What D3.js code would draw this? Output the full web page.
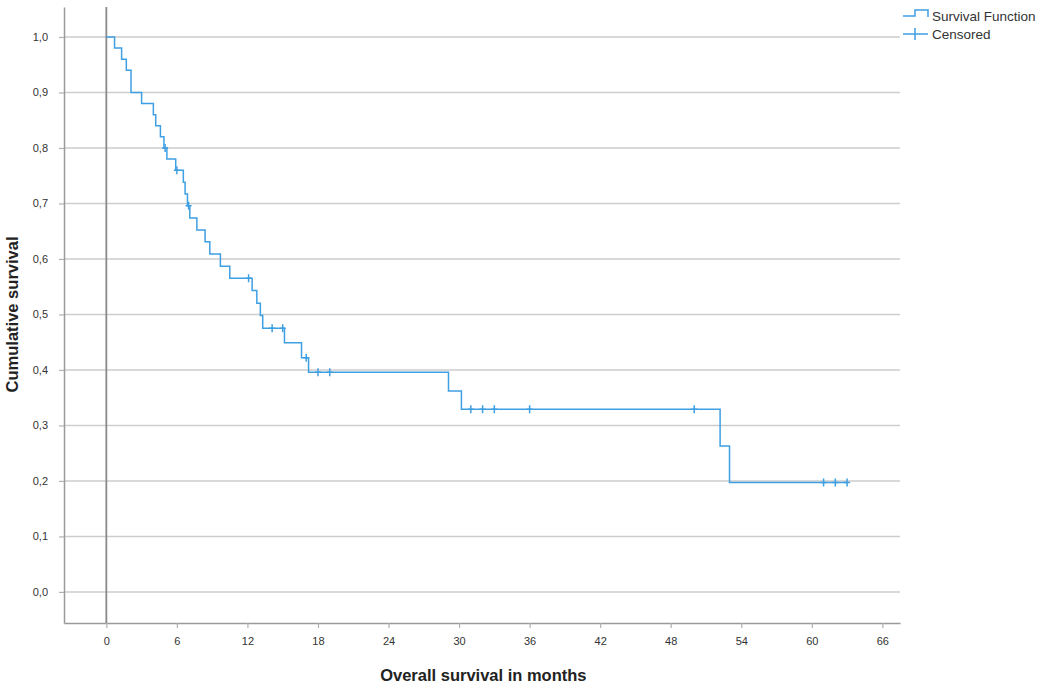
<!DOCTYPE html>
<html>
<head>
<meta charset="utf-8">
<script src="https://cdn.jsdelivr.net/npm/d3@7"></script>
<style>
  body { margin: 0; background: #fff; }
  text { font-family: "Liberation Sans", Arial, sans-serif; }
</style>
</head>
<body>
<script>
// Kaplan-Meier steps (months, cumulative survival after the step)
const eventTimes = [0, 0.7, 1.3, 1.7, 2.1, 3.0, 4.0, 4.2, 4.6, 4.9, 5.15, 5.9, 6.55, 6.7, 6.9, 7.1, 7.7, 8.4, 8.8, 9.7, 10.5, 12.4, 12.8, 13.1, 13.3, 15.15, 16.6, 17.2, 29.1, 30.2, 52.2, 53.0]
const survival   = [1.0, 0.98, 0.96, 0.94, 0.90, 0.88, 0.86, 0.84, 0.82, 0.80, 0.78, 0.76, 0.738, 0.717, 0.696, 0.674, 0.652, 0.631, 0.609, 0.587, 0.565, 0.543, 0.52, 0.498, 0.475, 0.449, 0.422, 0.396, 0.362, 0.329, 0.263, 0.197]
const censorTimes = [5.0, 6.0, 7.0, 12.1, 14.1, 15.0, 17.0, 18.0, 19.0, 31.0, 32.0, 33.0, 36.0, 50.0, 61.0, 62.0, 63.0]
const xTicks = [0, 6, 12, 18, 24, 30, 36, 42, 48, 54, 60, 66]
const yTicks = [0, 0.1, 0.2, 0.3, 0.4, 0.5, 0.6, 0.7, 0.8, 0.9, 1.0]
const blue = '#3f9fe3'

const W = 1037, H = 689
const svg = d3.select('body').append('svg').attr('width', W).attr('height', H)

// frame runs a bit past 0 and 66 like SPSS does
const x = d3.scaleLinear().domain([-3.6, 67.5]).range([64, 900])
const y = d3.scaleLinear().domain([-0.056, 1.054]).range([623, 7])

// survival level at time t (step after)
const levelAt = t => {
  let s = 1
  eventTimes.forEach((e, i) => { if (e <= t) s = survival[i] })
  return s
}

// gridlines
svg.append('g').selectAll('line').data(yTicks).join('line')
  .attr('x1', x.range()[0]).attr('x2', x.range()[1])
  .attr('y1', d => y(d)).attr('y2', d => y(d))
  .attr('stroke', '#cdcdcd').attr('stroke-width', 1.5)

// axes
const yAxis = svg.append('g').attr('transform', `translate(${x.range()[0]},0)`)
  .call(d3.axisLeft(y).tickValues(yTicks).tickSize(5).tickSizeOuter(0).tickFormat(d => d3.format('.1f')(d).replace('.', ',')))
const xAxis = svg.append('g').attr('transform', `translate(0,${y.range()[0]})`)
  .call(d3.axisBottom(x).tickValues(xTicks).tickSize(5).tickSizeOuter(0))
;[yAxis, xAxis].forEach(a => {
  a.select('.domain').attr('stroke', '#9a9a9a').attr('stroke-width', 1.5)
  a.selectAll('.tick line').attr('stroke', '#b0b0b0').attr('stroke-width', 1.2)
  a.selectAll('.tick text').attr('fill', '#333').style('font-size', '11px')
})
yAxis.selectAll('.tick text').attr('x', -16)
xAxis.selectAll('.tick text').attr('y', 14)

// reference line at time 0
svg.append('line')
  .attr('x1', x(0)).attr('x2', x(0)).attr('y1', y.range()[1]).attr('y2', y.range()[0])
  .attr('stroke', '#8a8a8a').attr('stroke-width', 1.8)

// survival step curve, carried on to the last censored case
const pts = eventTimes.map((t, i) => [t, survival[i]])
const lastT = d3.max(censorTimes)
pts.push([lastT, levelAt(lastT)])
svg.append('path')
  .datum(pts)
  .attr('fill', 'none').attr('stroke', blue).attr('stroke-width', 1.5)
  .attr('d', d3.line().x(d => x(d[0])).y(d => y(d[1])).curve(d3.curveStepAfter))

// censored marks
svg.append('g').selectAll('path').data(censorTimes).join('path')
  .attr('fill', 'none').attr('stroke', blue).attr('stroke-width', 1.5)
  .attr('d', t => {
    const cx = x(t), cy = y(levelAt(t))
    return `M${cx},${cy - 4}V${cy + 4}M${cx - 3},${cy}H${cx + 3}`
  })

// axis titles
svg.append('text')
  .attr('x', (x(0) + x(66)) / 2 - 11).attr('y', 681)
  .attr('text-anchor', 'middle').attr('font-weight', 'bold').style('font-size', '16.5px').attr('fill', '#222')
  .text('Overall survival in months')
svg.append('text')
  .attr('transform', `translate(18,${(y(0) + y(1)) / 2}) rotate(-90)`)
  .attr('text-anchor', 'middle').attr('font-weight', 'bold').style('font-size', '16.5px').attr('fill', '#222')
  .text('Cumulative survival')

// legend
const lg = svg.append('g').attr('transform', 'translate(903,0)')
lg.append('path').attr('fill', 'none').attr('stroke', blue).attr('stroke-width', 1.5)
  .attr('d', 'M0,16H12V10H25V17')
lg.append('text').attr('x', 29).attr('y', 21).style('font-size', '13.5px').attr('fill', '#333').text('Survival Function')
lg.append('path').attr('fill', 'none').attr('stroke', blue).attr('stroke-width', 1.5)
  .attr('d', 'M0,34H25M12,28V40')
lg.append('text').attr('x', 29).attr('y', 39).style('font-size', '13.5px').attr('fill', '#333').text('Censored')
</script>
</body>
</html>
